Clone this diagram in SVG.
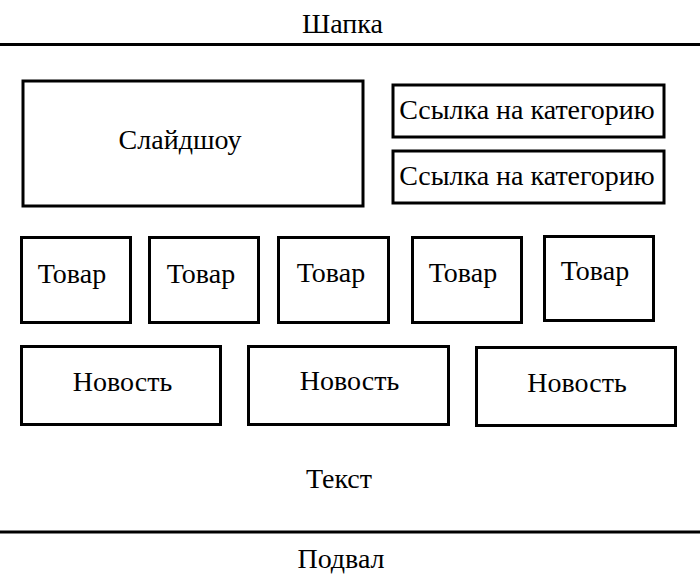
<svg xmlns="http://www.w3.org/2000/svg" width="700" height="583" viewBox="0 0 700 583">
<style>
.box{fill:#fff;stroke:#000;stroke-width:3}
.rule{stroke:#000;stroke-width:3}
</style>
<rect width="700" height="583" fill="#fff"/>
<g font-family="Liberation Serif, Times New Roman, DejaVu Serif, serif" font-size="28" fill="#000" text-anchor="middle">
<g id="header"><text x="342.5" y="33">Шапка</text></g>
<g id="slideshow"><rect class="box" x="23" y="81" width="340" height="125"/><text x="180" y="149">Слайдшоу</text></g>
<g id="cat1"><rect class="box" x="393" y="85" width="271" height="52"/><text x="527" y="119">Ссылка на категорию</text></g>
<g id="cat2"><rect class="box" x="393" y="151" width="271" height="52"/><text x="527" y="185">Ссылка на категорию</text></g>
<g id="item1"><rect class="box" x="21.5" y="237.5" width="109" height="85"/><text x="72" y="283">Товар</text></g>
<g id="item2"><rect class="box" x="149.5" y="237.5" width="109" height="85"/><text x="201" y="283">Товар</text></g>
<g id="item3"><rect class="box" x="278.5" y="237.5" width="110" height="85"/><text x="331" y="282">Товар</text></g>
<g id="item4"><rect class="box" x="412.5" y="237.5" width="109" height="85"/><text x="463" y="282">Товар</text></g>
<g id="item5"><rect class="box" x="544.5" y="236.5" width="109" height="84"/><text x="595" y="280">Товар</text></g>
<g id="news1"><rect class="box" x="21.5" y="346.5" width="199" height="78"/><text x="122.5" y="391">Новость</text></g>
<g id="news2"><rect class="box" x="248.5" y="346.5" width="200" height="78"/><text x="349.5" y="390">Новость</text></g>
<g id="news3"><rect class="box" x="476.5" y="347.5" width="199" height="78"/><text x="577" y="392">Новость</text></g>
<g id="text"><text x="339" y="488">Текст</text></g>
<g id="footer"><text x="341" y="568">Подвал</text></g>
</g>
<g id="connectors">
<line class="rule" x1="0" y1="44.5" x2="700" y2="44.5"/>
<line class="rule" x1="0" y1="532" x2="700" y2="532"/>
</g>
</svg>
